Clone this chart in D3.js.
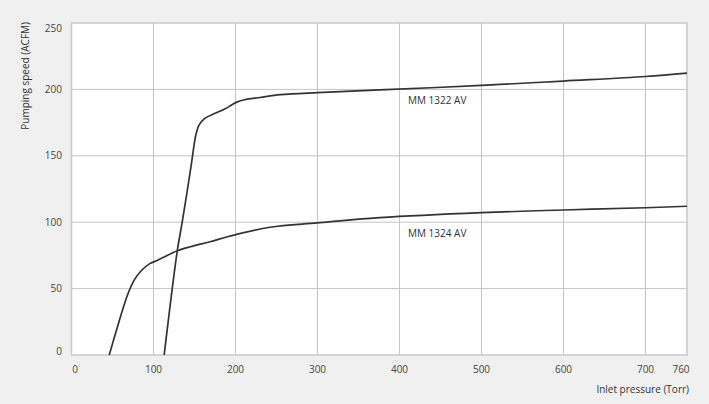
<!DOCTYPE html>
<html>
<head>
  <meta charset="utf-8">
  <script src="https://d3js.org/d3.v7.min.js"></script>
  <style>
    body { margin: 0; background: #f0f0f0; }
    svg { display: block; font-family: "Open Sans", "Noto Sans", sans-serif; }
    .tick-label { font-size: 10px; fill: #444; }
    .axis-title { font-size: 10px; fill: #333; }
    .series-label { font-size: 10px; fill: #333; }
  </style>
</head>
<body>
  <div id="chart"></div>
  <script>
    // inlet pressure (Torr) vs pumping speed (ACFM)
    var pressure1322 = [113, 129, 135, 146, 147.6, 151.7, 155.7, 163, 175.2, 187.4, 195.6, 201.7, 211, 230, 255, 300, 376, 500, 600, 700, 760];
    var speed1322 = [0, 78.5, 100, 143, 150, 165.8, 173.3, 178.4, 182, 185.4, 188.4, 190.4, 192.2, 193.9, 196, 197.6, 199.6, 203, 206.3, 209.7, 212.3];

    var pressure1324 = [46, 57.3, 67.5, 72.4, 77.7, 85.9, 96, 101, 120.4, 129, 144.8, 169, 193.5, 242, 300, 376, 500, 600, 700, 760];
    var speed1324 = [0, 23.8, 43.8, 51.4, 57.7, 64, 69, 70.3, 76, 78.5, 81.5, 85.3, 89.6, 96.2, 99.5, 103.4, 107.2, 109.2, 110.9, 112];

    var xTicks = [0, 100, 200, 300, 400, 500, 600, 700, 760];
    var yTicks = [0, 50, 100, 150, 200, 250];

    var seriesNames = ["MM 1322 AV", "MM 1324 AV"];

    var width = 709,
      height = 404;

    // plot box edges
    var pLeft = 71.5, pRight = 687, pTop = 23, pBottom = 355;

    // the last section (700-760) is squeezed on the original chart
    var x = d3.scaleLinear()
      .domain([0, 700, 760])
      .range([pLeft, pLeft + 574, pRight]);

    var y = d3.scaleLinear()
      .domain([0, 250])
      .range([pBottom, pTop]);

    var svg = d3.select('#chart')
      .append('svg')
      .attr('width', width)
      .attr('height', height);

    // plot area
    svg.append('rect')
      .attr('x', pLeft)
      .attr('y', pTop)
      .attr('width', pRight - pLeft)
      .attr('height', pBottom - pTop)
      .attr('fill', '#fff');

    // grid
    svg.selectAll('.vgrid')
      .data(xTicks.slice(1, -1)).enter()
      .append('line')
      .attr('x1', function(d) { return x(d); })
      .attr('x2', function(d) { return x(d); })
      .attr('y1', pTop)
      .attr('y2', pBottom)
      .attr('stroke', '#c4c4c4')
      .attr('stroke-width', 1);

    svg.selectAll('.hgrid')
      .data(yTicks.slice(1, -1)).enter()
      .append('line')
      .attr('x1', pLeft)
      .attr('x2', pRight)
      .attr('y1', function(d) { return y(d); })
      .attr('y2', function(d) { return y(d); })
      .attr('stroke', '#c4c4c4')
      .attr('stroke-width', 1);

    // frame
    svg.append('rect')
      .attr('x', pLeft)
      .attr('y', pTop)
      .attr('width', pRight - pLeft)
      .attr('height', pBottom - pTop)
      .attr('fill', 'none')
      .attr('stroke', '#c8c8c8')
      .attr('stroke-width', 1.5);

    // tick labels
    svg.selectAll('.xlab')
      .data(xTicks).enter()
      .append('text')
      .attr('class', 'tick-label')
      .attr('x', function(d, i) {
        if (i == 0) return x(d) + 3.5;
        if (i == xTicks.length - 1) return x(d) - 6;
        return x(d);
      })
      .attr('y', 373)
      .attr('text-anchor', 'middle')
      .text(function(d) { return d; });

    svg.selectAll('.ylab')
      .data(yTicks).enter()
      .append('text')
      .attr('class', 'tick-label')
      .attr('x', 62)
      .attr('y', function(d) { return Math.min(Math.max(y(d), 28), 351.5); })
      .attr('dy', '.35em')
      .attr('text-anchor', 'end')
      .text(function(d) { return d; });

    // axis titles
    svg.append('text')
      .attr('class', 'axis-title')
      .attr('x', 689)
      .attr('y', 393)
      .attr('text-anchor', 'end')
      .text('Inlet pressure (Torr)');

    svg.append('text')
      .attr('class', 'axis-title')
      .attr('transform', 'translate(28.5,22) rotate(-90)')
      .attr('text-anchor', 'end')
      .text('Pumping speed (ACFM)');

    // curves
    var line = d3.line()
      .x(function(d) { return x(d[0]); })
      .y(function(d) { return y(d[1]); })
      .curve(d3.curveCatmullRom.alpha(0.5));

    var series = [
      d3.zip(pressure1322, speed1322),
      d3.zip(pressure1324, speed1324)
    ];

    svg.selectAll('.curve')
      .data(series).enter()
      .append('path')
      .attr('d', line)
      .attr('fill', 'none')
      .attr('stroke', '#333')
      .attr('stroke-width', 1.7);

    // curve labels, just under the 200 and 100 gridlines
    var labelAt = [200, 100];
    svg.selectAll('.series-label')
      .data(seriesNames).enter()
      .append('text')
      .attr('class', 'series-label')
      .attr('x', 408)
      .attr('y', function(d, i) { return y(labelAt[i]) + 15; })
      .text(function(d) { return d; });
  </script>
</body>
</html>
